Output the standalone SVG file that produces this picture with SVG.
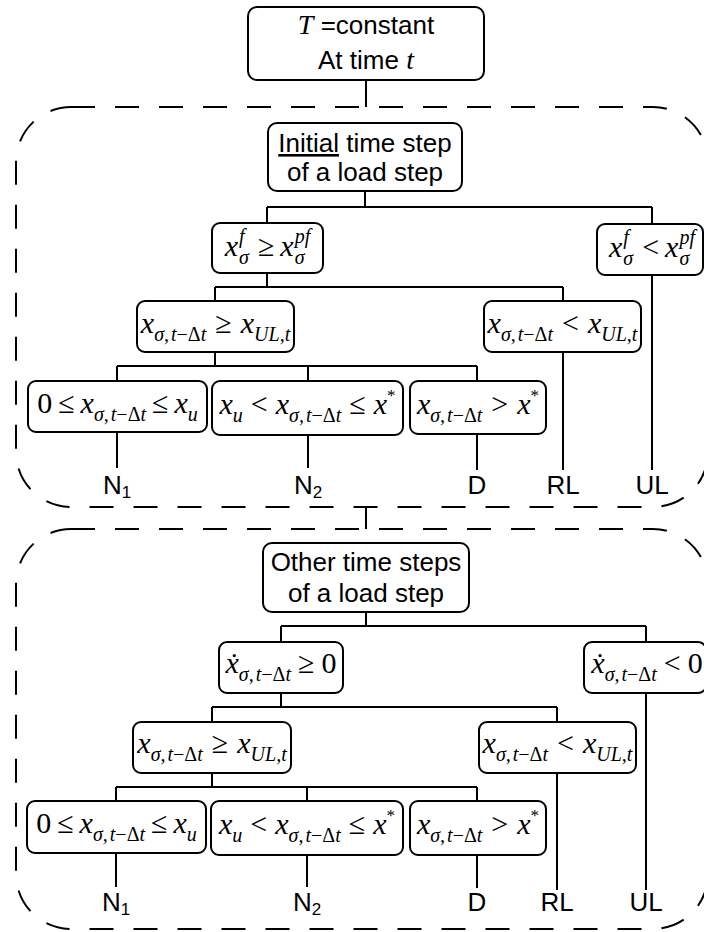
<svg xmlns="http://www.w3.org/2000/svg" width="704" height="932" viewBox="0 0 704 932">
<style>
.bg{fill:#fff}
.box{fill:#fff;stroke:#000;stroke-width:2}
.conn{fill:none;stroke:#000;stroke-width:2}
.region{fill:none;stroke:#000;stroke-width:2;stroke-dasharray:24 20}
.sans{font-family:"Liberation Sans",Arial,sans-serif;font-size:26px;fill:#000;text-anchor:middle}
.m{font-family:"Liberation Serif","Times New Roman","DejaVu Serif",serif;font-style:italic;font-size:30px;fill:#000;text-anchor:middle}
.s{font-size:20px}
.up{font-style:normal}
.star{font-size:17px;font-style:normal}
.lsub{font-size:17px}
</style>
<rect class="bg" width="704" height="932"/>

<g id="region-initial"><rect class="region" x="16" y="107" width="692" height="400" rx="55"/></g>
<g id="region-other"><rect class="region" x="16" y="529" width="692" height="400" rx="55"/></g>

<g id="connectors">
<path class="conn" d="M366 80V107"/>
<path class="conn" d="M365 191V207M267 207H652M267 207V223M652 207V224"/>
<path class="conn" d="M267 273V287M215 287H563M215 287V301M563 287V301"/>
<path class="conn" d="M215 352V366M117 366H477M117 366V381M308 366V381M477 366V381"/>
<path class="conn" d="M117 432V468M308 435V468M477 434V470M563 352V470M652 275V470"/>
<path class="conn" d="M366 507V529"/>
<path class="conn" d="M366 612V626M281 626H646M281 626V642M646 626V642"/>
<path class="conn" d="M281 693V707M212 707H557M212 707V722M557 707V722"/>
<path class="conn" d="M212 773V787M116 787H477M116 787V801M307 787V801M477 787V801"/>
<path class="conn" d="M116 853V887M307 855V887M477 855V888M557 773V890M646 693V890"/>
</g>

<g id="start">
<rect class="box" x="248" y="7" width="236" height="73" rx="9"/>
<text class="sans" x="366" y="34"><tspan class="m" style="font-size:28px">T</tspan> =constant</text>
<text class="sans" x="366" y="69">At time <tspan class="m" style="font-size:28px">t</tspan></text>
</g>

<g id="initial-step">
<rect class="box" x="268" y="123" width="194" height="68" rx="9"/>
<text class="sans" x="365" y="152"><tspan style="text-decoration:underline">Initial</tspan> time step</text>
<text class="sans" x="365" y="181">of a load step</text>
</g>

<g id="i-ff-ge">
<rect class="box" x="212" y="223" width="111" height="50" rx="8"/>
<text class="m" x="267.5" y="256">x<tspan class="s" dx="1" dy="-13">f</tspan><tspan class="s" dx="-5.6" dy="21">σ</tspan><tspan class="up" dx="9" dy="-8">≥</tspan><tspan dx="6">x</tspan><tspan class="s" dx="1" dy="-13">pf</tspan><tspan class="s" dx="-15.6" dy="21">σ</tspan></text>
</g>

<g id="i-ff-lt">
<rect class="box" x="597" y="224" width="106" height="51" rx="8"/>
<text class="m" x="652" y="257">x<tspan class="s" dx="1" dy="-13">f</tspan><tspan class="s" dx="-5.6" dy="21">σ</tspan><tspan class="up" dx="9" dy="-8">&lt;</tspan><tspan dx="6">x</tspan><tspan class="s" dx="1" dy="-13">pf</tspan><tspan class="s" dx="-15.6" dy="21">σ</tspan></text>
</g>

<g id="i-ul-ge">
<rect class="box" x="137" y="301" width="157" height="51" rx="8"/>
<text class="m" x="215.5" y="333">x<tspan class="s" dy="8">σ,<tspan dx="2">t</tspan><tspan class="up">−Δ</tspan>t</tspan><tspan class="up" dx="9" dy="-8">≥</tspan><tspan dx="9">x</tspan><tspan class="s" dy="8">UL,t</tspan></text>
</g>

<g id="i-ul-lt">
<rect class="box" x="484" y="301" width="157" height="51" rx="8"/>
<text class="m" x="562.5" y="333">x<tspan class="s" dy="8">σ,<tspan dx="2">t</tspan><tspan class="up">−Δ</tspan>t</tspan><tspan class="up" dx="9" dy="-8">&lt;</tspan><tspan dx="9">x</tspan><tspan class="s" dy="8">UL,t</tspan></text>
</g>

<g id="i-n1-cond">
<rect class="box" x="28" y="381" width="179" height="51" rx="8"/>
<text class="m" x="117.5" y="413"><tspan class="up">0</tspan><tspan class="up" dx="6">≤</tspan><tspan dx="6">x</tspan><tspan class="s" dy="8">σ,<tspan dx="2">t</tspan><tspan class="up">−Δ</tspan>t</tspan><tspan class="up" dx="6" dy="-8">≤</tspan><tspan dx="6">x</tspan><tspan class="s" dy="8">u</tspan></text>
</g>

<g id="i-n2-cond">
<rect class="box" x="212" y="381" width="191" height="54" rx="8"/>
<text class="m" x="307.5" y="414">x<tspan class="s" dy="8">u</tspan><tspan class="up" dx="8" dy="-8">&lt;</tspan><tspan dx="8">x</tspan><tspan class="s" dy="8">σ,<tspan dx="2">t</tspan><tspan class="up">−Δ</tspan>t</tspan><tspan class="up" dx="8" dy="-8">≤</tspan><tspan dx="8">x</tspan><tspan class="star" dy="-13">*</tspan></text>
</g>

<g id="i-d-cond">
<rect class="box" x="410" y="381" width="136" height="53" rx="8"/>
<text class="m" x="478" y="414">x<tspan class="s" dy="8">σ,<tspan dx="2">t</tspan><tspan class="up">−Δ</tspan>t</tspan><tspan class="up" dx="9" dy="-8">&gt;</tspan><tspan dx="9">x</tspan><tspan class="star" dy="-13">*</tspan></text>
</g>

<g id="i-label-n1"><text class="sans" x="117" y="494">N<tspan class="lsub" dy="4">1</tspan></text></g>
<g id="i-label-n2"><text class="sans" x="308" y="494">N<tspan class="lsub" dy="4">2</tspan></text></g>
<g id="i-label-d"><text class="sans" x="477" y="494">D</text></g>
<g id="i-label-rl"><text class="sans" x="563" y="494">RL</text></g>
<g id="i-label-ul"><text class="sans" x="652" y="494">UL</text></g>

<g id="other-steps">
<rect class="box" x="263" y="543" width="206" height="69" rx="9"/>
<text class="sans" x="366" y="571">Other time steps</text>
<text class="sans" x="366" y="602">of a load step</text>
</g>

<g id="o-rate-ge">
<rect class="box" x="219" y="642" width="124" height="51" rx="8"/>
<text class="m" x="281" y="673">ẋ<tspan class="s" dy="8">σ,<tspan dx="2">t</tspan><tspan class="up">−Δ</tspan>t</tspan><tspan class="up" dx="7" dy="-8">≥</tspan><tspan class="up" dx="7">0</tspan></text>
</g>

<g id="o-rate-lt">
<rect class="box" x="584" y="642" width="122" height="51" rx="8"/>
<text class="m" x="647" y="673">ẋ<tspan class="s" dy="8">σ,<tspan dx="2">t</tspan><tspan class="up">−Δ</tspan>t</tspan><tspan class="up" dx="7" dy="-8">&lt;</tspan><tspan class="up" dx="7">0</tspan></text>
</g>

<g id="o-ul-ge">
<rect class="box" x="133" y="722" width="158" height="51" rx="8"/>
<text class="m" x="212" y="753">x<tspan class="s" dy="8">σ,<tspan dx="2">t</tspan><tspan class="up">−Δ</tspan>t</tspan><tspan class="up" dx="9" dy="-8">≥</tspan><tspan dx="9">x</tspan><tspan class="s" dy="8">UL,t</tspan></text>
</g>

<g id="o-ul-lt">
<rect class="box" x="479" y="722" width="157" height="51" rx="8"/>
<text class="m" x="557.5" y="753">x<tspan class="s" dy="8">σ,<tspan dx="2">t</tspan><tspan class="up">−Δ</tspan>t</tspan><tspan class="up" dx="9" dy="-8">&lt;</tspan><tspan dx="9">x</tspan><tspan class="s" dy="8">UL,t</tspan></text>
</g>

<g id="o-n1-cond">
<rect class="box" x="27" y="801" width="179" height="52" rx="8"/>
<text class="m" x="116.5" y="833"><tspan class="up">0</tspan><tspan class="up" dx="6">≤</tspan><tspan dx="6">x</tspan><tspan class="s" dy="8">σ,<tspan dx="2">t</tspan><tspan class="up">−Δ</tspan>t</tspan><tspan class="up" dx="6" dy="-8">≤</tspan><tspan dx="6">x</tspan><tspan class="s" dy="8">u</tspan></text>
</g>

<g id="o-n2-cond">
<rect class="box" x="211" y="801" width="192" height="54" rx="8"/>
<text class="m" x="307" y="834">x<tspan class="s" dy="8">u</tspan><tspan class="up" dx="8" dy="-8">&lt;</tspan><tspan dx="8">x</tspan><tspan class="s" dy="8">σ,<tspan dx="2">t</tspan><tspan class="up">−Δ</tspan>t</tspan><tspan class="up" dx="8" dy="-8">≤</tspan><tspan dx="8">x</tspan><tspan class="star" dy="-13">*</tspan></text>
</g>

<g id="o-d-cond">
<rect class="box" x="410" y="801" width="136" height="54" rx="8"/>
<text class="m" x="478" y="834">x<tspan class="s" dy="8">σ,<tspan dx="2">t</tspan><tspan class="up">−Δ</tspan>t</tspan><tspan class="up" dx="9" dy="-8">&gt;</tspan><tspan dx="9">x</tspan><tspan class="star" dy="-13">*</tspan></text>
</g>

<g id="o-label-n1"><text class="sans" x="116" y="911">N<tspan class="lsub" dy="4">1</tspan></text></g>
<g id="o-label-n2"><text class="sans" x="307" y="911">N<tspan class="lsub" dy="4">2</tspan></text></g>
<g id="o-label-d"><text class="sans" x="477" y="911">D</text></g>
<g id="o-label-rl"><text class="sans" x="557" y="911">RL</text></g>
<g id="o-label-ul"><text class="sans" x="646" y="911">UL</text></g>
</svg>
